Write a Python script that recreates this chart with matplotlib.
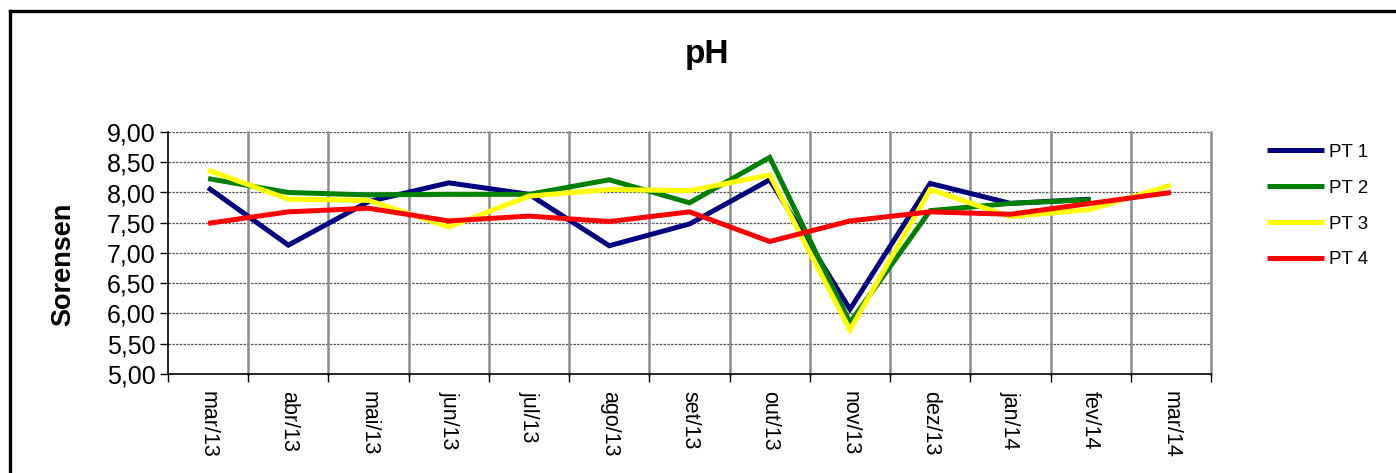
import matplotlib
matplotlib.use("Agg")
import matplotlib.pyplot as plt
from matplotlib.lines import Line2D
import numpy as np

plt.rcParams['font.family'] = ['Liberation Sans', 'DejaVu Sans']

months = ["mar/13", "abr/13", "mai/13", "jun/13", "jul/13", "ago/13", "set/13",
          "out/13", "nov/13", "dez/13", "jan/14", "fev/14", "mar/14"]
pt1 = [8.08, 7.13, 7.85, 8.16, 7.97, 7.12, 7.48, 8.21, 6.07, 8.15, 7.82, 7.89, None]
pt2 = [8.23, 8.00, 7.96, 7.97, 7.97, 8.21, 7.83, 8.58, 5.85, 7.70, 7.82, 7.88, None]
pt3 = [8.37, 7.89, 7.87, 7.43, 7.94, 8.05, 8.03, 8.29, 5.73, 8.05, 7.60, 7.72, 8.12]
pt4 = [7.49, 7.68, 7.74, 7.53, 7.61, 7.52, 7.68, 7.19, 7.53, 7.68, 7.64, 7.82, 8.00]
series_names = ["PT 1", "PT 2", "PT 3", "PT 4"]
series_colors = ["#000080", "#008000", "#FFFF00", "#FF0000"]
yticks = [5.0, 5.5, 6.0, 6.5, 7.0, 7.5, 8.0, 8.5, 9.0]

W, H = 1396, 473
fig = plt.figure(figsize=(W / 100, H / 100), dpi=100)
ax = fig.add_axes([168 / W, 1 - 374 / H, (1211 - 168) / W, (374 - 132) / H])

x = np.arange(len(months))
handles = []
for vals, name, col in zip([pt1, pt2, pt3, pt4], series_names, series_colors):
    y = np.array([np.nan if v is None else v for v in vals], dtype=float)
    h, = ax.plot(x, y, color=col, lw=3.6, label=name, solid_capstyle='butt',
                 solid_joinstyle='miter', zorder=3)
    handles.append(h)

ax.set_xlim(-0.5, len(months) - 0.5)
ax.set_ylim(5.0, 9.0)

# gridlines
for yv in yticks[1:]:
    ax.axhline(yv, color='#555555', lw=0.9, ls=(0, (2, 1)), zorder=1)
for b in np.arange(0.5, len(months), 1.0):
    ax.axvline(b, color='#8c8c8c', lw=1.8, zorder=1, clip_on=False)

ax.set_yticks(yticks)
ax.set_yticklabels([f"{v:.2f}".replace('.', ',') for v in yticks], fontsize=18)
ax.tick_params(axis='y', length=6, width=1, direction='out', pad=3)

ax.set_xticks(x)
ax.set_xticklabels(months, rotation=270, fontsize=15.5, va='top', ha='center')
ax.tick_params(axis='x', which='major', length=0, pad=12)
ax.set_xticks(np.arange(-0.5, len(months), 1.0), minor=True)
ax.tick_params(axis='x', which='minor', length=6, width=1, direction='out')

for s in ['top', 'right']:
    ax.spines[s].set_visible(False)
for s in ['left', 'bottom']:
    ax.spines[s].set_color('black')
    ax.spines[s].set_linewidth(1.2)

fig.text(707 / W, 1 - 54 / H, "pH", fontsize=24, fontweight='bold',
         ha='center', va='center')
fig.text(63 / W, 1 - 264 / H, "Sorensen", fontsize=19.5, fontweight='bold',
         rotation=90, ha='center', va='center')

fig.legend(handles=handles, loc='center left',
           bbox_to_anchor=(1258 / W, 1 - 206 / H), frameon=False,
           fontsize=13.5, handlelength=3.0, handletextpad=0.3, labelspacing=1.0,
           borderpad=0)

# outer frame
fig.add_artist(Line2D([9.5 / W, 9.5 / W], [0, 1 - 11.5 / H], transform=fig.transFigure,
                      color='black', lw=2.4))
fig.add_artist(Line2D([9.5 / W, 1.0], [1 - 11.5 / H, 1 - 11.5 / H], transform=fig.transFigure,
                      color='black', lw=2.4))

fig.savefig("out.png", dpi=100)
